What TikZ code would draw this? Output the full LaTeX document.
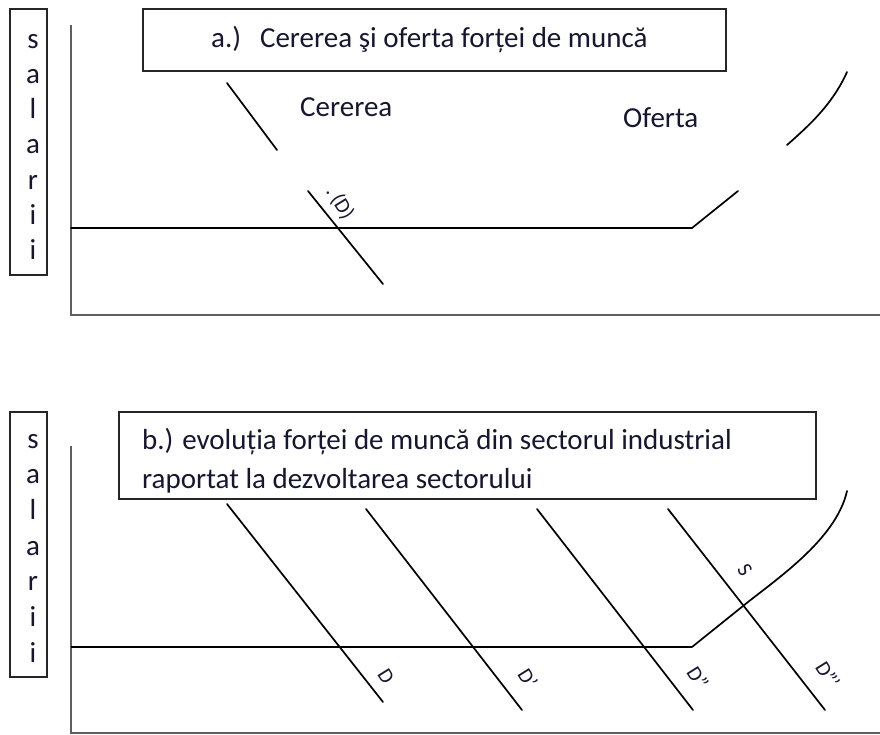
\documentclass[tikz,border=0pt]{standalone}
\usepackage{fontspec}
\setmainfont{Carlito}
\definecolor{txt}{RGB}{22,22,48}
\definecolor{axisgray}{RGB}{95,95,95}
\begin{document}
\begin{tikzpicture}[x=1pt,y=-1pt,
  curveline/.style={line width=1.7pt, draw=black, line cap=round},
  axisline/.style={line width=1.7pt, draw=axisgray},
  frame/.style={draw=black!85, line width=1.6pt},
  bigtxt/.style={font=\fontsize{29}{38}\selectfont, text=txt, inner sep=0pt},
  rottxt/.style={font=\fontsize{21}{24}\selectfont, text=txt, inner sep=0pt, rotate=-58}]
\useasboundingbox (0,0) rectangle (880,734);
\fill[white] (0,0) rectangle (880,734);

% ===== Panel a =====
\draw[frame] (10,9) rectangle (47,275);
\foreach \l [count=\k from 0] in {s,a,l,a,r,i,i}
  \node[bigtxt, anchor=base] (ya\k) at (33,{48+35.3*\k}) {\l};
\draw[frame] (143,9) rectangle (726,71);
\node[bigtxt, anchor=base west] (titlea) at (211,47) {a.)\hspace{0.35em} Cererea şi oferta forței de muncă};
\node[bigtxt, anchor=base west] (cerereaL) at (300,116) {Cererea};
\node[bigtxt, anchor=base west] (ofertaL) at (623,127) {Oferta};
% axes
\coordinate (aO) at (71,315);
\draw[axisline] (71,25) -- (aO) -- (880,315);
% demand
\draw[curveline] (227,83) -- (277,150);
\draw[curveline] (308,191) -- (383,284);
\node[rottxt] (Dlab) at (340,203) {.\,(D)};
% supply
\draw[curveline] (71,228) -- (692,228) -- (738,191);
\draw[curveline] (787,145) .. controls (812,123) and (833,103) .. (847,72);

% ===== Panel b =====
\draw[frame] (10,412) rectangle (47,677);
\foreach \l [count=\k from 0] in {s,a,l,a,r,i,i}
  \node[bigtxt, anchor=base] (yb\k) at (33,{448+35.7*\k}) {\l};
\draw[frame] (119,412) rectangle (816,499);
\node[bigtxt, anchor=base west] (titleb1) at (142,449) {b.) evoluția forței de muncă din sectorul industrial};
\node[bigtxt, anchor=base west] (titleb2) at (142,488) {raportat la dezvoltarea sectorului};
% axes
\draw[axisline] (71,446) -- (71,733) -- (880,733);
% supply
\draw[line width=2.4pt, draw=black] (71,647) -- (692,647);
\draw[curveline] (692,647) -- (743,606) .. controls (775,580) and (836,540) .. (847,491);
% demand lines
\draw[curveline] (227,504) -- (383,702);
\draw[curveline] (366,509) -- (522,710);
\draw[curveline] (537,509) -- (693,710);
\draw[curveline] (668,509) -- (825,710);
\node[rottxt] (D0) at (386,676) {D};
\node[rottxt] (D1) at (528,678) {D'};
\node[rottxt] (D2) at (698,678) {D''};
\node[rottxt] (D3) at (828,675) {D'''};
\node[rottxt] (S) at (745,570) {S};
\end{tikzpicture}
\end{document}
